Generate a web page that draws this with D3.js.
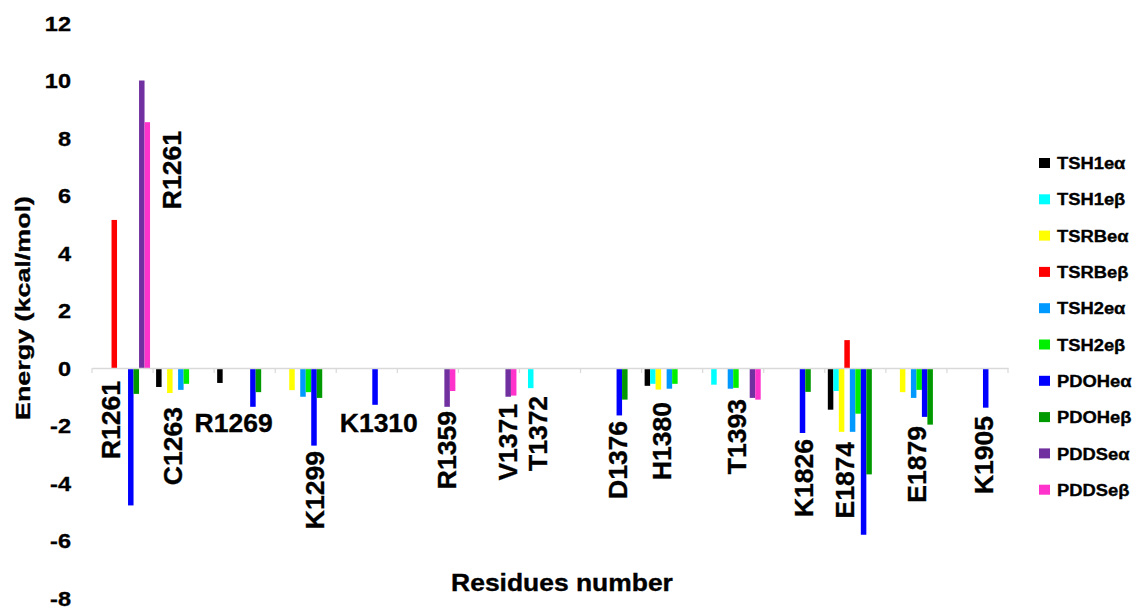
<!DOCTYPE html>
<html>
<head>
<meta charset="utf-8">
<script src="https://cdn.jsdelivr.net/npm/d3@7"></script>
<style>
  body { margin: 0; background: #fff; }
  text { font-family: "Liberation Sans", Arial, sans-serif; font-weight: bold; fill: #000; stroke: #000; stroke-width: 0.35px; }
</style>
</head>
<body>
<svg id="chart"></svg>
<script>
// ------------------------------------------------ DATA ------------------------------------------------

var residues = ["R1261", "C1263", "R1269", "K1299", "K1310", "R1359", "V1371", "T1372",
                "D1376", "H1380", "T1393", "K1826", "E1874", "E1879", "K1905"];

var seriesNames = ["TSH1e\u03b1", "TSH1e\u03b2", "TSRBe\u03b1", "TSRBe\u03b2", "TSH2e\u03b1",
                   "TSH2e\u03b2", "PDOHe\u03b1", "PDOHe\u03b2", "PDDSe\u03b1", "PDDSe\u03b2"];

// one array per complex, same order as residues (0 = no bar drawn)
var tsh1ea = [0, -0.66, -0.52, 0, 0, 0, 0, 0, 0, -0.62, 0, 0, -1.45, 0, 0];
var tsh1eb = [0, 0, 0, 0, 0, 0, 0, -0.70, 0, -0.55, -0.58, 0, -0.80, 0, 0];
var tsrbea = [0, -0.87, 0, -0.77, 0, 0, 0, 0, 0, -0.75, 0, 0, -2.22, -0.84, 0];
var tsrbeb = [5.15, 0, 0, 0, 0, 0, 0, 0, 0, 0, 0, 0, 0.97, 0, 0];
var tsh2ea = [0, -0.76, 0, -1.00, 0, 0, 0, 0, 0, -0.72, -0.72, 0, -2.22, -1.04, 0];
var tsh2eb = [0, -0.55, 0, -0.84, 0, 0, 0, 0, 0, -0.55, -0.69, 0, -1.59, -0.76, 0];
var pdohea = [-4.78, 0, -1.35, -2.70, -1.28, 0, 0, 0, -1.65, 0, 0, -2.26, -5.80, -1.70, -1.38];
var pdoheb = [-0.90, 0, -0.84, -1.04, 0, 0, 0, 0, -1.10, 0, 0, -0.83, -3.70, -1.97, 0];
var pddsea = [10.0, 0, 0, 0, 0, -1.35, -1.00, 0, 0, 0, -1.04, 0, 0, 0, 0];
var pddseb = [8.55, 0, 0, 0, 0, -0.80, -0.96, 0, 0, 0, -1.10, 0, 0, 0, 0];

var allSeries = [tsh1ea, tsh1eb, tsrbea, tsrbeb, tsh2ea, tsh2eb, pdohea, pdoheb, pddsea, pddseb];

var yTicks = [12, 10, 8, 6, 4, 2, 0, -2, -4, -6, -8];

var colors = ["#000000", "#00ffff", "#ffff00", "#ff0000", "#0099ff",
              "#00ee00", "#0000ff", "#009900", "#7030a0", "#ff33cc"];

// residue labels are hand-placed in the figure: residue index, pixel shift, energy of the label top, rotated or not
var residueLabels = [
    {i: 0, text: "R1261", dx: -12, top: -0.45, vertical: true},
    {i: 0, text: "R1261", dx: 48.5, top: 8.24, vertical: true},
    {i: 1, text: "C1263", dx: -11.5, top: -1.36, vertical: true},
    {i: 2, text: "R1269", dx: -11, top: -1.88, vertical: false},
    {i: 3, text: "K1299", dx: 9, top: -2.89, vertical: true},
    {i: 4, text: "K1310", dx: 12, top: -1.9, vertical: false},
    {i: 5, text: "R1359", dx: 18.5, top: -1.5, vertical: true},
    {i: 6, text: "V1371", dx: 19, top: -1.25, vertical: true},
    {i: 7, text: "T1372", dx: -13, top: -0.97, vertical: true},
    {i: 8, text: "D1376", dx: 6.5, top: -1.84, vertical: true},
    {i: 9, text: "H1380", dx: -10.5, top: -1.18, vertical: true},
    {i: 10, text: "T1393", dx: 3.5, top: -1.08, vertical: true},
    {i: 11, text: "K1826", dx: 9, top: -2.47, vertical: true},
    {i: 12, text: "E1874", dx: -10.5, top: -2.57, vertical: true},
    {i: 13, text: "E1879", dx: 0, top: -2.02, vertical: true},
    {i: 14, text: "K1905", dx: 5.5, top: -1.67, vertical: true}
];

// ------------------------------------------------ CHART ------------------------------------------------

var svgWidth = 1137, svgHeight = 610;
var plotLeft = 92, plotRight = 1008;

var svg = d3.select('#chart')
    .attr("width", svgWidth)
    .attr("height", svgHeight);

// one band per residue, then one sub band per complex inside it
var x0 = d3.scaleBand()
    .domain(residues)
    .range([plotLeft, plotRight]);

var x1 = d3.scaleBand()
    .domain(seriesNames)
    .range([0, x0.bandwidth()])
    .paddingOuter(0.55);

var yScale = d3.scaleLinear()
    .domain([-8, 12])
    .range([598, 23]);

// y tick labels only, the axis itself has no line (text in the figure is a bit stretched)
svg.append("g")
    .selectAll("text")
    .data(yTicks)
    .enter()
    .append("text")
    .attr("transform", function(d) { return "translate(71," + yScale(d) + ") scale(1.12,1)"; })
    .attr("dy", "0.36em")
    .attr("text-anchor", "end")
    .attr("font-size", 21)
    .text(function(d) { return d; });

// bars: one group per complex
var groups = svg.append("g")
    .selectAll("g")
    .data(allSeries)
    .enter()
    .append("g")
    .attr("fill", function(d, s) { return colors[s]; });

groups.selectAll("rect")
    .data(function(d, s) {
        return d.map(function(v, i) { return {s: s, i: i, v: v}; });
    })
    .enter()
    .filter(function(d) { return d.v !== 0; })
    .append("rect")
    .attr("x", function(d) { return x0(residues[d.i]) + x1(seriesNames[d.s]); })
    .attr("width", x1.bandwidth())
    .attr("y", function(d) { return yScale(Math.max(0, d.v)); })
    .attr("height", function(d) { return Math.abs(yScale(d.v) - yScale(0)); });

// zero line with the category tick marks
var xAxis = d3.axisBottom(x0)
    .tickValues([])
    .tickSizeOuter(0);

var axisG = svg.append("g")
    .attr("transform", "translate(0," + yScale(0) + ")")
    .call(xAxis);

axisG.select(".domain")
    .attr("stroke", "#d9d9d9")
    .attr("stroke-width", 1.5);

axisG.selectAll(".sep")
    .data(d3.range(residues.length + 1))
    .enter()
    .append("line")
    .attr("class", "sep")
    .attr("x1", function(d) { return plotLeft + d * x0.step(); })
    .attr("x2", function(d) { return plotLeft + d * x0.step(); })
    .attr("y1", 0)
    .attr("y2", 5)
    .attr("stroke", "#d9d9d9")
    .attr("stroke-width", 1.2);

// residue labels
svg.append("g")
    .selectAll("text")
    .data(residueLabels)
    .enter()
    .append("text")
    .attr("font-size", 26.5)
    .attr("transform", function(d) {
        var cx = x0(residues[d.i]) + x0.bandwidth() / 2 + d.dx;
        if (d.vertical) {
            return "translate(" + cx + "," + yScale(d.top) + ") rotate(-90)";
        }
        return "translate(" + cx + "," + yScale(d.top) + ")";
    })
    .attr("text-anchor", function(d) { return d.vertical ? "end" : "middle"; })
    .attr("dy", "0.36em")
    .text(function(d) { return d.text; });

// axis titles
svg.append("text")
    .attr("transform", "translate(30,308) rotate(-90) scale(1.28,1)")
    .attr("text-anchor", "middle")
    .attr("font-size", 21)
    .text("Energy (kcal/mol)");

svg.append("text")
    .attr("transform", "translate(562,591) scale(1.15,1)")
    .attr("text-anchor", "middle")
    .attr("font-size", 23)
    .text("Residues number");

// legend
var legend = svg.append("g")
    .selectAll("g")
    .data(seriesNames)
    .enter()
    .append("g")
    .attr("transform", function(d, i) { return "translate(1039," + (163 + i * 36.3) + ")"; });

legend.append("rect")
    .attr("x", 0)
    .attr("y", -5)
    .attr("width", 11)
    .attr("height", 10)
    .attr("fill", function(d, i) { return colors[i]; });

legend.append("text")
    .attr("transform", "translate(18,0) scale(1.08,1)")
    .attr("dy", "0.36em")
    .attr("font-size", 17)
    .text(function(d) { return d; });
</script>
</body>
</html>
